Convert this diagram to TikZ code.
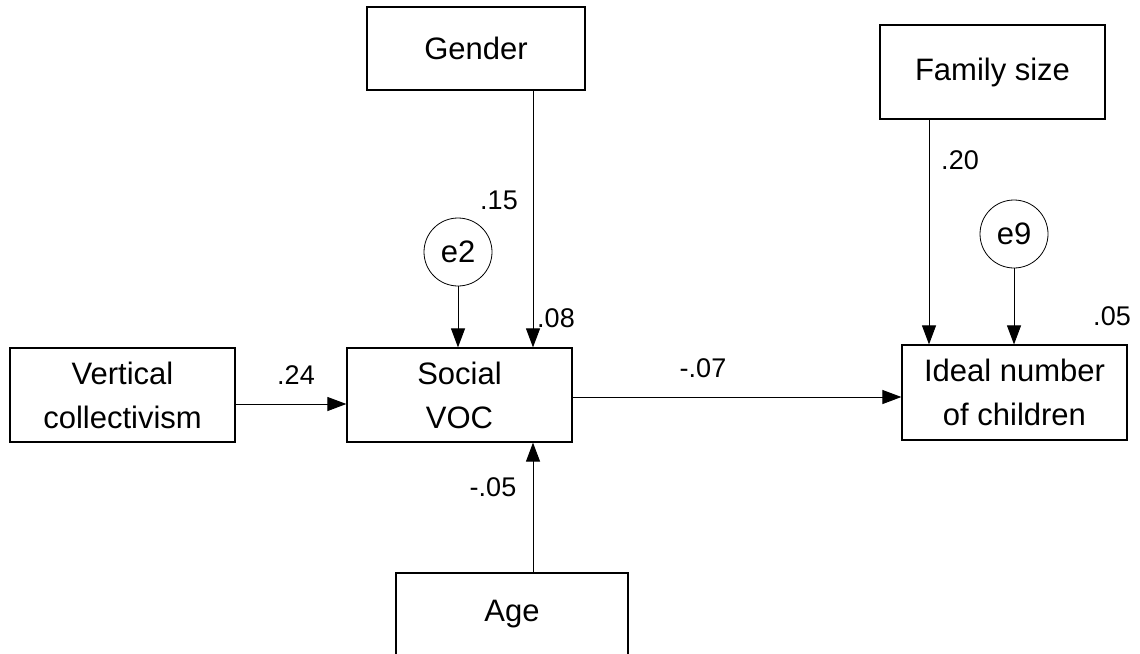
\documentclass[tikz,border=0pt]{standalone}
\usepackage{fontspec}
\setmainfont{Liberation Sans}
\usetikzlibrary{arrows.meta}
\tikzset{
  varbox/.style={draw, line width=1.2pt, rectangle, inner sep=0pt, align=center,
    minimum width=225pt, minimum height=94pt, font=\fontsize{31}{44}\selectfont},
  errc/.style={draw, line width=0.8pt, circle, inner sep=0pt, minimum size=68pt,
    font=\fontsize{31}{36}\selectfont},
  coef/.style={inner sep=0pt, font=\fontsize{27}{32}\selectfont},
  path/.style={line width=1pt, -{Triangle[length=19pt,width=14pt]}}
}
\begin{document}
\begin{tikzpicture}[x=1pt, y=-1pt]
  \useasboundingbox (0,0) rectangle (1140,653);
  \clip (0,0) rectangle (1140,653);

  % observed variables
  \node[varbox, minimum width=218pt, minimum height=83pt] (gender) at (476,48.5) {Gender};
  \node[varbox] (fam) at (992.5,72) {Family size};
  \node[varbox] (vc) at (122.5,395) {Vertical\\collectivism};
  \node[varbox] (soc) at (459.5,395) {Social\\VOC};
  \node[varbox, minimum height=95pt] (ideal) at (1014.5,392.5) {Ideal number\\of children};
  \node[varbox, minimum width=232pt, minimum height=82pt] (age) at (512,614) {Age};

  % error terms
  \node[errc] (e2) at (458,252) {e2};
  \node[errc] (e9) at (1014,234) {e9};

  % paths
  \draw[path] ([yshift=-9pt]vc.east) -- ([yshift=-9pt]vc.east -| soc.west);
  \draw[path] ([yshift=-2pt]soc.east) -- ([yshift=-2pt]soc.east -| ideal.west);
  \draw[path] ([xshift=57pt]gender.south) -- ([xshift=57pt]gender.south |- soc.north);
  \draw[path] (e2.south) -- (e2.south |- soc.north);
  \draw[path] ([xshift=21pt]age.north) -- ([xshift=21pt]age.north |- soc.south);
  \draw[path] ([xshift=-63.5pt]fam.south) -- ([xshift=-63.5pt]fam.south |- ideal.north);
  \draw[path] (e9.south) -- (e9.south |- ideal.north);

  % coefficients
  \node[coef] (c15) at (499,200) {.15};
  \node[coef] (c08) at (556,318) {.08};
  \node[coef] (c24) at (296,375) {.24};
  \node[coef] (c07) at (703,368) {-.07};
  \node[coef] (c05a) at (493,487) {-.05};
  \node[coef] (c20) at (960,160) {.20};
  \node[coef] (c05b) at (1112,316) {.05};
\end{tikzpicture}
\end{document}
